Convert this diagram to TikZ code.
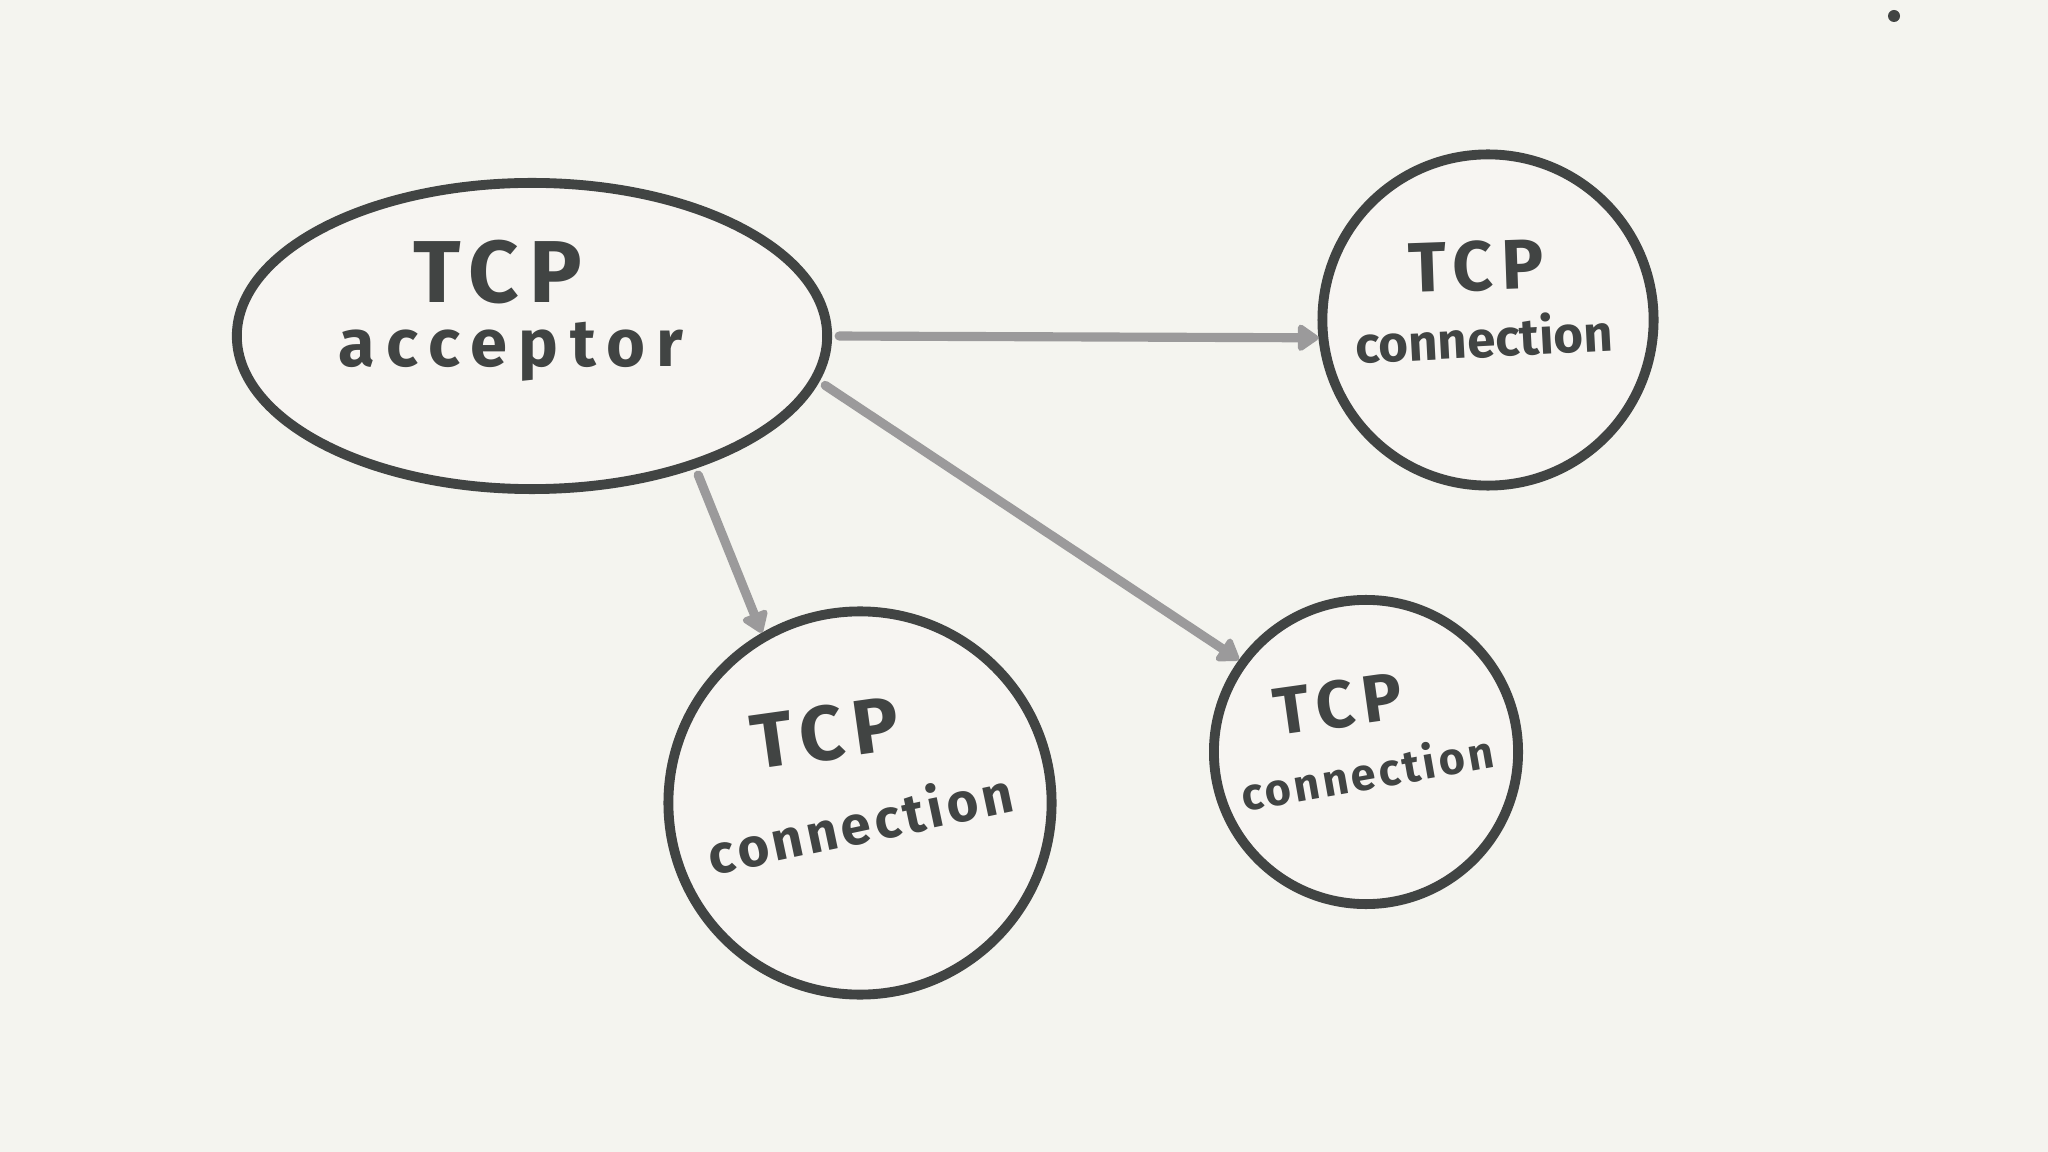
\documentclass[tikz,border=0pt]{standalone}
\usepackage{fontspec}
\setmainfont{Fira Sans}
\usetikzlibrary{shapes.geometric,arrows.meta}
\definecolor{bg}{HTML}{F4F4EF}
\definecolor{ink}{HTML}{414443}
\definecolor{arr}{HTML}{9B9A9B}
\definecolor{inner}{HTML}{F7F5F2}
\begin{document}
\begin{tikzpicture}[x=0.01cm,y=-0.01cm,
  shapebox/.style={draw=ink, line width=2.8pt, fill=inner, inner sep=0pt},
  conn/.style={draw=arr, line width=2.6pt, line cap=round,
    -{Triangle[round,length=6.5pt,width=8.5pt]}, shorten <=2pt},
  lbl/.style={text=ink, inner sep=0pt},
  big/.style={font=\bfseries\fontsize{#1}{#1}\selectfont\addfontfeature{LetterSpace=12}},
  small/.style={font=\bfseries\fontsize{#1}{#1}\selectfont\addfontfeature{LetterSpace=7}}]
\fill[bg] (0,0) rectangle (2048,1152);
\useasboundingbox (0,0) rectangle (2048,1152);
% shapes
\node[shapebox, ellipse, minimum width=5.9cm, minimum height=3.06cm] (acc) at (532,336) {};
\node[shapebox, circle, minimum size=3.31cm] (c1) at (1488,320) {};
\node[shapebox, circle, minimum size=3.83cm] (c2) at (860,803) {};
\node[shapebox, circle, minimum size=3.04cm] (c3) at (1366,752) {};
\node[fill=ink, circle, minimum size=0.12cm, inner sep=0pt] (dot) at (1894,16) {};
% labels
\node[lbl, big=25] (accT) at (498,272) {TCP};
\node[lbl, font=\bfseries\fontsize{19}{19}\selectfont\addfontfeature{LetterSpace=17}] (accA) at (511,352) {acceptor};
\node[lbl, big=20, rotate=2] (c1T) at (1476,266) {TCP};
\node[lbl, font=\bfseries\fontsize{14.5}{14.5}\selectfont, rotate=3] (c1C) at (1484,337) {connection};
\node[lbl, big=22, rotate=8] (c2T) at (825,733) {TCP};
\node[lbl, small=15.5, rotate=12] (c2C) at (860,822) {connection};
\node[lbl, big=19, rotate=8] (c3T) at (1338,704) {TCP};
\node[lbl, small=12.8, rotate=10] (c3C) at (1367,772) {connection};
% connectors
\draw[conn] (acc.0) -- (c1.186);
\draw[conn] (acc.-9) -- (c3.144);
\draw[conn] (acc.-39) -- (c2.120);
\end{tikzpicture}
\end{document}
